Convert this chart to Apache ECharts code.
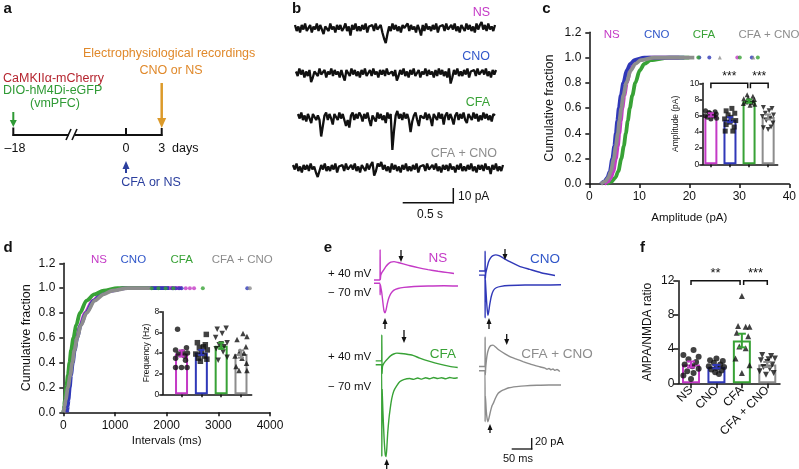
<!DOCTYPE html>
<html><head><meta charset="utf-8">
<script src="https://cdn.jsdelivr.net/npm/echarts@6/dist/echarts.min.js"></script>
<style>html,body{margin:0;padding:0;background:#fff}#c{width:799px;height:469px}</style>
</head><body><div id="c"></div><script>
const FONT = '"Liberation Sans", Arial, Helvetica, sans-serif';
const groups = ['NS','CNO','CFA','CFA + CNO'];
const groupColors = ['#c43ac6','#3038b8','#38a236','#8d8d8d'];
const labelColors = ['#c43ac6','#3157c9','#38a236','#8d8d8d'];

// ---- panel b: spontaneous EPSC traces (pA, per sample) ----
const traceNS = [2,-2,1,-3,2,-1,3,-2,0,2,-3,1,-1,3,-2,2,-1,-4,1,2,
 -2,3,-1,1,-3,2,-1,2,-2,0,3,-2,1,-5,2,-1,3,-2,1,-2,
 2,-1,3,-3,1,0,2,-2,3,-1,-2,2,-3,-7,-10,-4,1,-2,3,-1,
 2,-2,1,-3,2,0,-1,3,-2,2,-1,1,-3,2,-1,-5,2,-2,3,-1,
 1,-2,2,-1,3,-3,1,0,2,-2,3,-1,-2,2,-1,3,-2,1,-3,2,
 0,-2,3,-1,2,-2,1,-3,3,-1,2,4,-1,2,-2,3,-1,1,-2,2];
const traceCNO = [1,-2,3,-1,2,-3,1,-2,2,-6,-3,1,2,-2,3,-1,0,2,-3,1,
 -1,3,-2,2,-1,1,-3,2,-2,-5,2,1,-2,3,-1,2,-2,1,-3,2,
 -1,3,-2,0,2,-2,3,-1,1,-3,2,-1,2,-2,3,-1,-2,1,-2,2,
 -5,-2,2,-1,3,-2,1,-3,2,-1,3,-2,0,2,-3,1,-1,3,-2,2,
 -1,1,-3,2,-2,3,-1,2,-2,1,-3,3,-7,-3,2,-1,3,-2,1,-2,
 2,-1,3,-3,1,0,2,-2,3,-1,-2,2,-1,3,-2,1,-3,2,-1,2];
const traceCFA = [2,-1,3,-2,1,-3,2,-1,-4,2,3,-2,1,-2,-13,-6,1,3,-2,2,
 -1,-5,2,1,-2,3,-1,2,-2,-6,-2,-7,1,3,-2,2,-1,3,1,-3,
 2,-1,3,-2,-6,1,2,-3,3,-1,2,-2,1,-4,3,-1,2,-22,-9,1,
 4,-1,2,-2,3,-1,2,-2,-10,-3,1,3,-2,-6,1,2,-1,3,-2,2,
 -1,-6,2,1,-2,3,-1,2,-5,1,3,-2,2,-1,-5,1,3,-2,2,-1,
 3,-2,-4,2,1,-2,3,-1,2,-3,1,-2,3,-1,2,-2,1,-3,2,1];
const traceCFACNO = [2,-1,3,-2,1,-3,2,-1,2,-2,3,-1,1,-3,-6,-2,2,-1,3,-2,
 1,-2,2,-1,3,-3,1,0,2,-2,3,-1,-2,2,-1,3,-2,1,-3,2,
 0,-2,3,-1,2,4,-5,-2,3,1,4,-1,2,-2,1,-3,3,-1,2,-2,
 1,-3,2,-1,3,-2,1,-2,2,-1,3,-3,1,0,2,-2,3,-1,-2,2,
 -1,3,-2,1,-3,2,-1,2,-2,3,-1,1,-3,2,-1,3,-2,1,-2,2,
 -1,3,-2,1,-3,2,-1,2,-2,3,-1,1,-4,2,-1,3,-2,1,-2,2];

// ---- panel c: cumulative amplitude ----
const cdfFractions = [0,0.02,0.05,0.1,0.2,0.3,0.4,0.5,0.6,0.7,0.8,0.9,0.95,0.98,1.0,1.0];
const ampNS     = [3.0,3.8,4.3,4.8,5.3,5.7,6.0,6.3,6.6,7.0,7.5,8.2,8.9,9.8,12,18];
const ampCNO    = [2.3,3.0,3.6,4.1,4.6,5.0,5.3,5.6,5.9,6.3,6.8,7.5,8.2,9.0,11,19];
const ampCFA    = [3.5,4.5,5.2,5.8,6.4,6.9,7.3,7.7,8.1,8.6,9.2,10.1,11.0,12.3,16,20];
const ampCFACNO = [2.3,3.2,3.8,4.3,4.9,5.3,5.7,6.0,6.4,6.8,7.4,8.3,9.2,10.3,13,21];
const ampTailNS = [29.6];
const ampTailCNO = [22.0,24.0,32.5];
const ampTailCFA = [21.8,30.1,33.7];
const ampTailCFACNO = [26.1,32.8];
// inset c: amplitude (pA)
const ampMean = [6.1,5.5,7.8,5.85];
const ampSem  = [0.2,0.3,0.2,0.3];
const ampPtsNS = [[-0.28,6.6],[0.22,6.5],[-0.1,6.4],[0.28,6.2],[0.05,6.1],[-0.3,6.0],[0.15,5.95],[-0.18,5.8],[0.3,5.7],[0,5.6],[-0.05,6.3],[0.12,6.0]];
const ampPtsCNO = [[0.1,6.9],[-0.2,6.6],[0.25,6.3],[-0.1,6.1],[0.05,5.8],[-0.28,5.6],[0.3,5.4],[0,5.2],[-0.2,4.9],[0.22,4.6],[-0.25,4.1],[0.15,4.1]];
const ampPtsCFA = [[-0.1,8.6],[0.2,8.4],[-0.28,8.1],[0.28,8.0],[0,7.9],[-0.15,7.7],[0.12,7.6],[-0.3,7.5],[0.3,7.4],[0.05,7.3],[-0.05,8.2],[0.2,7.8]];
const ampPtsCFACNO = [[-0.25,7.0],[0.2,6.9],[0.05,6.6],[-0.15,6.3],[0.28,6.1],[-0.3,5.9],[0.1,5.7],[-0.1,5.4],[0.25,5.1],[-0.25,4.5],[0,4.3],[0.15,4.6]];
const ampBrackets = [[0,1.93,10,9.4],[2.07,3,10,9.4]];
const ampStars = ['***','***'];

// ---- panel d: cumulative intervals ----
const intNS     = [20,30,45,65,100,135,170,210,260,325,420,570,730,900,1200,2300];
const intCNO    = [75,80,88,100,125,150,185,220,270,335,440,590,750,920,1200,2050];
const intCFA    = [0,8,16,30,58,88,120,150,195,250,320,450,600,780,1050,1650];
const intCFACNO = [0,10,25,45,90,135,175,215,270,340,450,610,780,950,1250,1700];
const intTailNS = [2370,2450,2530];
const intTailCNO = [2110,2170,2240,2290,3560];
const intTailCFA = [1710,1840,1980,2130,2700];
const intTailCFACNO = [3610];
// inset d: frequency (Hz)
const freqMean = [3.95,4.05,4.7,3.9];
const freqSem  = [0.3,0.25,0.3,0.35];
const freqPtsNS = [[-0.2,6.3],[0.25,4.5],[-0.3,4.3],[0.05,4.1],[0.3,4.0],[-0.15,3.9],[0.15,3.7],[-0.3,3.5],[0.2,3.3],[-0.3,2.6],[0,2.6],[0.28,2.6]];
const freqPtsCNO = [[0.25,5.8],[-0.2,5.0],[0.2,4.8],[-0.1,4.5],[0.3,4.3],[0,4.1],[-0.28,3.9],[0.15,3.7],[-0.15,3.5],[0.28,3.4],[-0.05,3.2],[0.1,4.6]];
const freqPtsCFA = [[-0.2,6.3],[0.25,6.4],[0.05,5.9],[-0.28,5.5],[0.3,5.0],[-0.1,4.8],[0.15,4.6],[-0.25,4.4],[0.1,4.1],[0.3,3.6],[-0.15,3.3],[0,4.9]];
const freqPtsCFACNO = [[0.1,5.9],[0.3,5.6],[-0.2,5.3],[0.25,4.6],[-0.05,4.2],[0.15,4.0],[-0.3,3.7],[0.05,3.5],[0.28,3.0],[-0.25,2.7],[0.3,2.3],[-0.1,2.3]];

// ---- panel e: evoked EPSCs (ms, pA) ----
const nsPos = [[-15,-11],[0,-11],[0.3,44],[0.8,-10],[2,-2],[5,3],[9,7],[14,13],[20,18],[27,21.5],[35,22.5],[45,21],[58,18.5],[75,15],[95,11.5],[120,8],[145,5],[170,2.5],[185,1]];
const nsNeg = [[-15,5],[0,5],[0.3,-16],[0.8,3],[2,-2],[4,-10],[6,-22],[8,-35],[10,-45],[12.5,-49],[15,-44],[18,-33],[22,-22],[27,-14],[34,-8],[45,-4.5],[60,-2.5],[85,-1],[120,0],[160,0.5],[195,0]];
const cnoPos = [[-15,9],[0,9],[0.3,45],[0.8,-5],[2,5],[5,15],[9,26],[14,33],[20,37],[27,38.5],[35,37],[45,33],[62,26],[85,18],[112,12],[140,6],[175,1]];
const cnoNeg = [[-15,18],[0,18],[0.3,-60],[0.8,10],[2,-5],[4,-30],[6,-48],[7.5,-55],[9,-50],[12,-35],[16,-20],[21,-10],[28,-5],[40,-2.5],[60,-1],[100,0],[150,0],[190,0.5]];
const cfaPos = [[-15,13],[0,13],[0.3,60],[0.8,-10],[2,3],[5,8],[9,12],[15,17],[22,22],[30,25.5],[38,27],[48,26.5],[60,25.5],[78,23],[95,18],[120,12],[145,7],[170,3],[190,1]];
const cfaNeg = [[-15,24],[0,24],[0.3,-143],[1,-20],[3,-60],[6,-110],[9,-140],[11,-143],[13,-125],[15,-100],[18,-75],[21,-57],[25,-38],[30,-24],[37,-15],[45,-7],[55,-3],[70,-1],[80,-2.5],[90,0],[100,-2],[110,0.5],[120,-1.5],[130,1],[140,-1],[150,0.5],[160,-1.5],[170,1],[180,-0.5],[190,0.5]];
const cfacnoPos = [[-15,10],[0,10],[0.3,64],[0.8,-5],[2,10],[5,30],[9,42],[14,48],[20,49],[27,45],[35,40],[50,33],[65,27],[80,23],[95,19],[115,14],[137,9.5],[150,7],[155,5],[160,6.5],[165,4],[170,5.5],[175,3],[180,4.5],[187,1]];
const cfacnoNeg = [[-15,26],[0,26],[0.3,-67],[1,-20],[3,-45],[5,-60],[7.5,-67],[10,-60],[14,-47],[18,-37],[21,-33],[26,-24],[33,-15],[40,-11],[46,-9],[60,-5],[79,-3],[100,-1.5],[130,-0.5],[160,0],[190,0]];

// ---- panel f: AMPA/NMDA ratio ----
const ratioMean = [2.2,1.95,5.0,2.2];
const ratioSem  = [0.35,0.2,0.8,0.3];
const ratioPtsNS = [[0.1,3.9],[-0.3,3.3],[0.3,3.1],[-0.1,2.8],[0.2,2.5],[-0.25,2.2],[0.05,2.0],[0.3,1.7],[-0.15,1.4],[0.1,1.2],[-0.3,0.9],[0,0.5]];
const ratioPtsCNO = [[0,2.9],[-0.25,2.7],[0.25,2.6],[-0.1,2.4],[0.15,2.2],[-0.3,2.0],[0.3,1.9],[0,1.8],[-0.2,1.6],[0.2,1.5],[-0.05,1.3],[0.1,1.1]];
const ratioPtsCFA = [[0,10.2],[-0.15,6.7],[0.15,6.6],[0.3,6.6],[-0.2,5.9],[0.25,5.5],[-0.1,4.3],[0.15,4.1],[-0.25,2.9],[0.3,2.1],[0,1.2]];
const ratioPtsCFACNO = [[-0.2,3.3],[0.15,3.2],[0.3,2.9],[-0.25,2.7],[0,2.5],[0.2,2.2],[-0.15,1.9],[0.1,1.7],[-0.3,1.4],[0.25,1.2],[-0.05,1.0],[0.05,2.8]];
const ratioBrackets = [[0,1.93,12,11.5],[2.07,3,12,11.5]];
const ratioStars = ['**','***'];

// ================= build =================
const grids=[], xAxes=[], yAxes=[], series=[];
function addGrid(rect, xa, ya){
  const gi=grids.length;
  grids.push(Object.assign({containLabel:false}, rect));
  xa.gridIndex=gi; ya.gridIndex=gi; xAxes.push(xa); yAxes.push(ya);
  return gi;
}
function axStyle(fs, tick, margin){
  return {
    axisLine:{show:true,onZero:false,lineStyle:{color:'#111',width:1.5}},
    axisTick:{show:true,length:tick,lineStyle:{color:'#111',width:1.5}},
    axisLabel:{color:'#111',fontSize:fs,fontFamily:FONT,margin:margin,formatter:v=>String(v)},
    splitLine:{show:false}
  };
}
function hidden(min,max){ return {type:'value',min:min,max:max,show:false}; }
const INV_TRI = 'path://M0,0 L10,0 L5,9 Z';

// ---- c main ----
const gC = addGrid({left:589.3, top:32.3, width:205.3, height:151.7},
  Object.assign({type:'value',min:0,max:40,interval:10,name:'Amplitude (pA)',nameLocation:'middle',nameGap:28,
    nameTextStyle:{fontSize:11.5,fontFamily:FONT,color:'#111'}}, axStyle(12,4,7)),
  Object.assign({type:'value',min:0,max:1.2,interval:0.2,name:'Cumulative fraction',nameLocation:'middle',nameGap:33,
    nameTextStyle:{fontSize:12.5,fontFamily:FONT,color:'#111'}}, axStyle(12,4,8)));
yAxes[gC].axisLabel.formatter = v => v.toFixed(1);

function cdfLine(gi, xs, color){
  return {type:'line', xAxisIndex:gi, yAxisIndex:gi, showSymbol:false, smooth:0.3, smoothMonotone:'x',
    data: xs.map((x,i)=>[x, cdfFractions[i]]), lineStyle:{color:color,width:3.8}, z:3, animation:false};
}
function tailDots(gi, xs, color, sym){
  return {type:'scatter', xAxisIndex:gi, yAxisIndex:gi, symbol:sym||'circle', symbolSize:4,
    data: xs.map(x=>[x,1.0]), itemStyle:{color:color}, z:4};
}
series.push(cdfLine(gC, ampCFA, groupColors[2]));
series.push(cdfLine(gC, ampNS, groupColors[0]));
series.push(cdfLine(gC, ampCNO, groupColors[1]));
series.push(cdfLine(gC, ampCFACNO, groupColors[3]));
series.push(tailDots(gC, ampTailNS, groupColors[0]));
series.push(tailDots(gC, ampTailCNO, groupColors[1]));
series.push(tailDots(gC, ampTailCFA, groupColors[2]));
series.push(tailDots(gC, ampTailCFACNO, groupColors[3], 'triangle'));

// ---- d main ----
const gD = addGrid({left:63.3, top:263.3, width:206.7, height:149},
  Object.assign({type:'value',min:0,max:4000,interval:1000,name:'Intervals (ms)',nameLocation:'middle',nameGap:23,
    nameTextStyle:{fontSize:11.5,fontFamily:FONT,color:'#111'}}, axStyle(12,4,7)),
  Object.assign({type:'value',min:0,max:1.2,interval:0.2,name:'Cumulative fraction',nameLocation:'middle',nameGap:30,
    nameTextStyle:{fontSize:12.5,fontFamily:FONT,color:'#111'}}, axStyle(12,4,8)));
yAxes[gD].axisLabel.formatter = v => v.toFixed(1);
series.push(cdfLine(gD, intNS, groupColors[0]));
series.push(cdfLine(gD, intCNO, groupColors[1]));
series.push(cdfLine(gD, intCFA, groupColors[2]));
series.push(cdfLine(gD, intCFACNO, groupColors[3]));
series.push(tailDots(gD, intTailNS, groupColors[0]));
series.push(tailDots(gD, intTailCNO, groupColors[1]));
series.push(tailDots(gD, intTailCFA, groupColors[2]));
series.push(tailDots(gD, intTailCFACNO, groupColors[3]));

// ---- bar panels ----
function barPanel(rect, xmin, xmax, ymax, yint, yfs, yname, ynameGap, means, sems, pts, syms, barW, symSize, capW, showXLabels){
  const xa = Object.assign({type:'value',min:xmin,max:xmax}, axStyle(12,showXLabels?5:3,4));
  xa.axisTick.customValues=[0,1,2,3];
  if(showXLabels){
    xa.axisLabel = {customValues:[0,1,2,3], formatter:v=>groups[Math.round(v)], rotate:45, fontSize:12, fontFamily:FONT, color:'#111', margin:5};
  } else { xa.axisLabel = {show:false}; }
  const ya = Object.assign({type:'value',min:0,max:ymax,interval:yint,name:yname,nameLocation:'middle',nameGap:ynameGap,
    nameTextStyle:{fontSize:yfs,fontFamily:FONT,color:'#111'}}, axStyle(yfs,showXLabels?5:3,showXLabels?4:3));
  const gi = addGrid(rect, xa, ya);
  series.push({type:'bar', xAxisIndex:gi, yAxisIndex:gi, barWidth:barW, z:2,
    data: means.map((m,i)=>({value:[i,m], itemStyle:{color:'#fff', borderColor:groupColors[i], borderWidth:2}}))});
  pts.forEach((arr,gIdx)=>{
    series.push({type:'scatter', xAxisIndex:gi, yAxisIndex:gi, symbol:syms[gIdx], symbolSize:symSize, z:3,
      data: arr.map(p=>[gIdx+p[0], p[1]]), itemStyle:{color:'#111'}});
  });
  series.push({type:'custom', xAxisIndex:gi, yAxisIndex:gi, z:6, clip:false,
    data: means.map((m,i)=>[i,m,sems[i]]),
    renderItem(params, api){
      const x=api.value(0), m=api.value(1), s=api.value(2), ci=params.dataIndex;
      const p1=api.coord([x,m-s]), p2=api.coord([x,m+s]);
      const col=groupColors[ci];
      return {type:'group', children:[
        {type:'line', shape:{x1:p1[0],y1:p1[1],x2:p2[0],y2:p2[1]}, style:{stroke:col,lineWidth:2}},
        {type:'line', shape:{x1:p1[0]-capW,y1:p1[1],x2:p1[0]+capW,y2:p1[1]}, style:{stroke:col,lineWidth:2}},
        {type:'line', shape:{x1:p2[0]-capW,y1:p2[1],x2:p2[0]+capW,y2:p2[1]}, style:{stroke:col,lineWidth:2}}
      ]};
    }});
  return gi;
}
function bracketSeries(gi, brs, stars, fs){
  return {type:'custom', xAxisIndex:gi, yAxisIndex:gi, z:5, clip:false,
    data: brs.map((b,i)=>[b[0],b[1],b[2],b[3],i]),
    renderItem(params, api){
      const x1=api.value(0), x2=api.value(1), y=api.value(2), yd=api.value(3), i=params.dataIndex;
      const a=api.coord([x1,yd]), b=api.coord([x1,y]), c=api.coord([x2,y]), d=api.coord([x2,yd]);
      return {type:'group', children:[
        {type:'polyline', shape:{points:[a,b,c,d]}, style:{stroke:'#111', lineWidth:1.5, fill:null}},
        {type:'text', x:(b[0]+c[0])/2, y:b[1]-1, style:{text:stars[i], align:'center', verticalAlign:'bottom',
          textAlign:'center', textVerticalAlign:'bottom', font: fs+'px '+FONT, fill:'#111'}}
      ]};
    }};
}
const gCi = barPanel({left:702.3, top:83.3, width:75.4, height:81}, -0.45, 3.5, 10, 2, 8.5, 'Amplitude (pA)', 22,
  ampMean, ampSem, [ampPtsNS, ampPtsCNO, ampPtsCFA, ampPtsCFACNO], ['circle','rect','triangle',INV_TRI], 13, 5, 3, false);
series.push(bracketSeries(gCi, ampBrackets, ampStars, 12));
const gDi = barPanel({left:162.3, top:311.7, width:89.4, height:82.6}, -0.97, 3.54, 8, 2, 8.5, 'Frequency (Hz)', 9,
  freqMean, freqSem, [freqPtsNS, freqPtsCNO, freqPtsCFA, freqPtsCFACNO], ['circle','rect',INV_TRI,'triangle'], 13, 5.5, 3, false);
const gF = barPanel({left:678.3, top:280.7, width:101.7, height:102.6}, -0.5, 3.5, 12, 4, 12, 'AMPA/NMDA ratio', 25,
  ratioMean, ratioSem, [ratioPtsNS, ratioPtsCNO, ratioPtsCFA, ratioPtsCFACNO], ['circle','circle','triangle',INV_TRI], 18, 6, 4, true);
series.push(bracketSeries(gF, ratioBrackets, ratioStars, 13));

// ---- panel b traces ----
function bTrace(rect, tr){
  const gi = addGrid(rect, hidden(0, tr.length-1), hidden(-25, 8));
  series.push({type:'line', xAxisIndex:gi, yAxisIndex:gi, showSymbol:false, data: tr.map((v,i)=>[i,v]),
    lineStyle:{color:'#111', width:2.3}, clip:false});
}
bTrace({left:295, width:200, top:16, height:49.5}, traceNS);
bTrace({left:296, width:200, top:61, height:49.5}, traceCNO);
bTrace({left:298, width:197, top:105, height:49.5}, traceCFA);
bTrace({left:293, width:210, top:156, height:49.5}, traceCFACNO);

// ---- panel e traces ----
function eTrace(left, baseY, data, color, pos){
  const yr = pos ? [-20,70] : [-150,30];
  const h = (yr[1]-yr[0])/1.82;
  const top = baseY - yr[1]/1.82;
  const gi = addGrid({left:left-8, width:88, top:top, height:h}, hidden(-20,200), hidden(yr[0],yr[1]));
  series.push({type:'line', xAxisIndex:gi, yAxisIndex:gi, showSymbol:false, data:data, smooth:0.2,
    lineStyle:{color:color,width:1.4}, clip:false});
}
eTrace(380, 274, nsPos, groupColors[0], true);
eTrace(380, 286, nsNeg, groupColors[0], false);
eTrace(485, 276, cnoPos, groupColors[1], true);
eTrace(485, 285, cnoNeg, groupColors[1], false);
eTrace(381.7, 368, cfaPos, groupColors[2], true);
eTrace(381.7, 378, cfaNeg, groupColors[2], false);
eTrace(485, 372, cfacnoPos, groupColors[3], true);
eTrace(485, 385, cfacnoNeg, groupColors[3], false);

// ---- graphics (panel a diagram, labels, arrows, scale bars) ----
const G = [];
function txt(text,x,y,o){
  o=o||{};
  const align=o.align||'left', va=o.va||'middle';
  G.push({type:'text', x:x, y:y, z:10, style:{text:text, fill:o.fill||'#111', font:(o.weight||'normal')+' '+(o.size||12)+'px '+FONT,
    align:align, textAlign:align, verticalAlign:va, textVerticalAlign:va}});
}
function seg(x1,y1,x2,y2,color,w){
  G.push({type:'line', z:10, shape:{x1:x1,y1:y1,x2:x2,y2:y2}, style:{stroke:color||'#111', lineWidth:w||1.5}});
}
function arrow(x,y1,y2,color,lw,hw,hl){
  const dir = y2>y1?1:-1;
  seg(x,y1,x,y2-dir*hl*0.7,color,lw);
  G.push({type:'polygon', z:10, shape:{points:[[x-hw/2,y2-dir*hl],[x+hw/2,y2-dir*hl],[x,y2]]}, style:{fill:color}});
}
// panel letters
txt('a',3.5,8.5,{weight:'bold',size:15});
txt('b',296.5,9,{weight:'bold',size:15,align:'center'});
txt('c',546.5,8.5,{weight:'bold',size:15,align:'center'});
txt('d',3.5,247.5,{weight:'bold',size:15});
txt('e',328,248,{weight:'bold',size:15,align:'center'});
txt('f',642.5,248,{weight:'bold',size:15,align:'center'});
// panel a
txt('Electrophysiological recordings',83,54,{fill:'#e0892b',size:12.5});
txt('CNO or NS',139.5,71,{fill:'#e0892b',size:12.5});
txt('CaMKII\u03b1-mCherry',3,78.5,{fill:'#b5252f',size:12.5});
txt('DIO-hM4Di-eGFP',3,91,{fill:'#2f9a35',size:12.5});
txt('(vmPFC)',55,103.5,{fill:'#2f9a35',size:12.5,align:'center'});
arrow(13.3,112,127,'#2f9a35',2,7,7);
arrow(161.7,83,128,'#dc9a2a',2.5,9,10);
seg(12.6,135,69,135,'#111',2);
seg(75,135,162.4,135,'#111',2);
seg(66,140,71,129,'#111',1.6);
seg(72,140,77,129,'#111',1.6);
seg(13.3,127.5,13.3,136,'#111',2);
seg(126,128,126,136,'#111',2);
seg(161.7,128,161.7,136,'#111',2);
txt('\u201318',15,149,{align:'center',size:12.5});
txt('0',126,149,{align:'center',size:12.5});
txt('3',161.7,149,{align:'center',size:12.5});
txt('days',172,149,{size:12.5});
arrow(126,173,161,'#2b3f9e',2,7,8);
txt('CFA or NS',151,182.5,{fill:'#2b3f9e',size:12.5,align:'center'});
// panel b labels + scale
txt('NS',490,13,{fill:labelColors[0],align:'right',size:12.5});
txt('CNO',490,57,{fill:labelColors[1],align:'right',size:12.5});
txt('CFA',490,103,{fill:labelColors[2],align:'right',size:12.5});
txt('CFA + CNO',497,154,{fill:labelColors[3],align:'right',size:12.5});
seg(402.7,202.7,454,202.7,'#111',1.5);
seg(453.3,188,453.3,203.4,'#111',1.5);
txt('10 pA',458,196.5,{size:12});
txt('0.5 s',430,215,{size:12,align:'center'});
// legends c & d
const legC=[611.7,656.7,704,769], legD=[99,133.3,181.7,242.3];
groups.forEach((g,i)=>{ txt(g,legC[i],35,{fill:labelColors[i],align:'center',size:11.5}); txt(g,legD[i],260,{fill:labelColors[i],align:'center',size:11.5}); });
// panel e labels, arrows, scale
txt('+ 40 mV',328,273.5,{size:11.5});
txt('\u2212 70 mV',328,293.3,{size:11.5});
txt('+ 40 mV',328,356.7,{size:11.5});
txt('\u2212 70 mV',328,387.3,{size:11.5});
txt('NS',438,258,{fill:labelColors[0],align:'center',size:13.5});
txt('CNO',545,259,{fill:labelColors[1],align:'center',size:13.5});
txt('CFA',443,354,{fill:labelColors[2],align:'center',size:13.5});
txt('CFA + CNO',557,354,{fill:labelColors[3],align:'center',size:13.5});
arrow(401,250,262,'#111',1.3,5,6);
arrow(385,329,318,'#111',1.3,5,6);
arrow(505,249,260,'#111',1.3,5,6);
arrow(489,329,318,'#111',1.3,5,6);
arrow(404,330,343,'#111',1.3,5,6);
arrow(386.7,469,459,'#111',1.3,5,6);
arrow(506.7,334,345,'#111',1.3,5,6);
arrow(490,433,424,'#111',1.3,5,6);
seg(511.7,449,532.4,449,'#111',1.3);
seg(531.7,438,531.7,449.6,'#111',1.3);
txt('20 pA',535,442,{size:11});
txt('50 ms',503,458.5,{size:11});

const chart = echarts.init(document.getElementById('c'), null, {renderer:'canvas', width:799, height:469});
chart.setOption({
  animation:false,
  backgroundColor:'#fff',
  textStyle:{fontFamily:FONT},
  grid:grids, xAxis:xAxes, yAxis:yAxes, series:series, graphic:G
});
</script></body></html>
